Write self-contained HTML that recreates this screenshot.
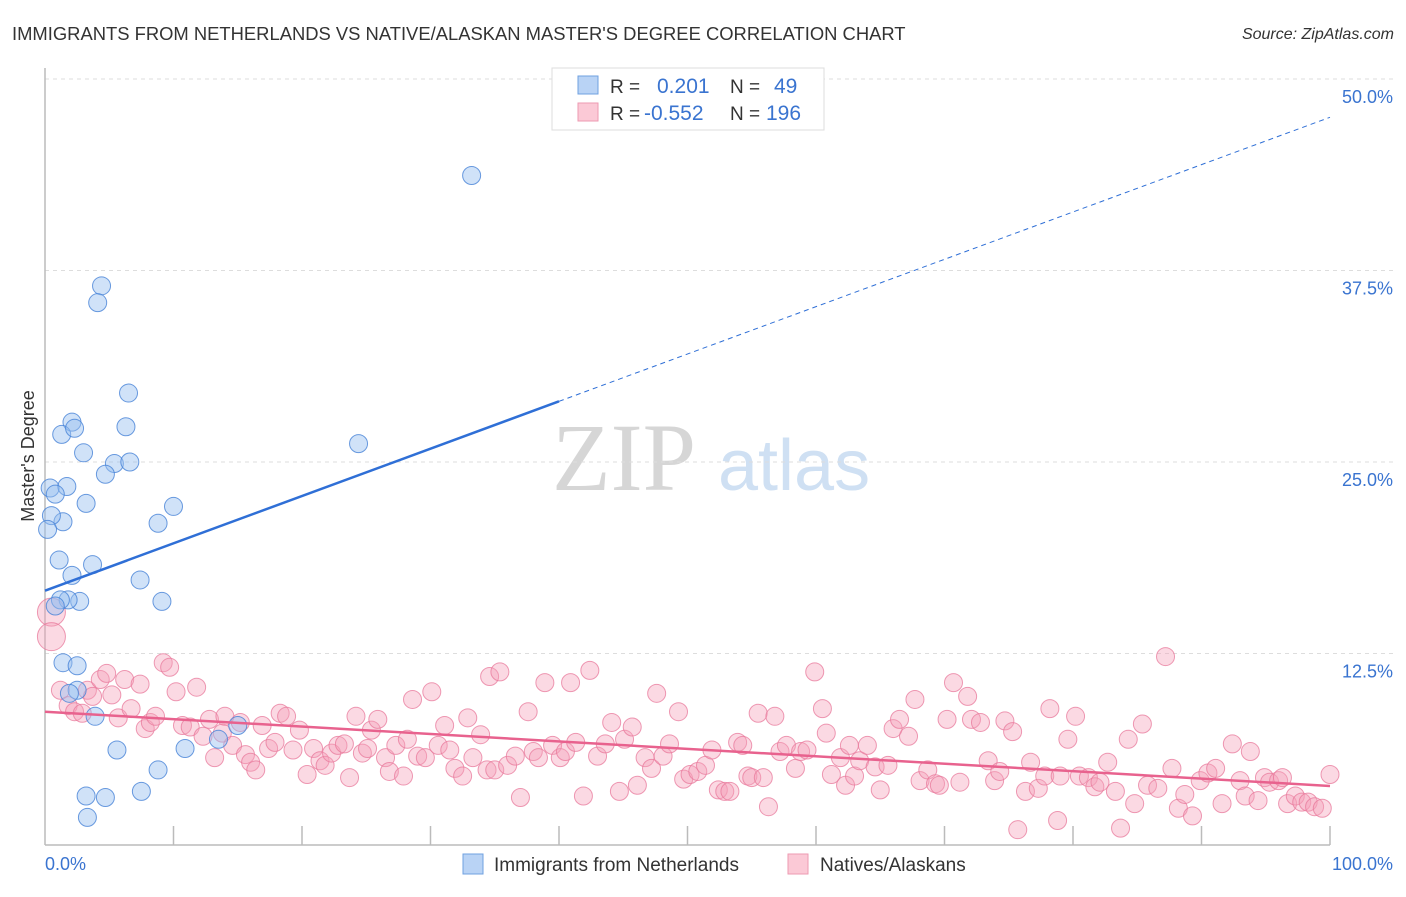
<!DOCTYPE html>
<html><head><meta charset="utf-8"><style>
html,body{margin:0;padding:0;background:#fff;}
body{width:1406px;height:892px;overflow:hidden;font-family:"Liberation Sans",sans-serif;}
</style></head><body>
<svg id="chart" width="1406" height="892" xmlns="http://www.w3.org/2000/svg" font-family="Liberation Sans, sans-serif">
<text x="12" y="40" font-size="18.4" fill="#333">IMMIGRANTS FROM NETHERLANDS VS NATIVE/ALASKAN MASTER'S DEGREE CORRELATION CHART</text>
<text x="1394" y="39" font-size="16" font-style="italic" fill="#333" text-anchor="end">Source: ZipAtlas.com</text>
<g>
<text x="552" y="490" font-family="Liberation Serif, serif" font-size="96" fill="#d6d6d6">ZIP</text>
<text x="718" y="490" font-size="72" fill="#cfe0f3">atlas</text>
</g>
<g id="grid"></g>
<g id="axes"></g>
<g id="pts"></g>
<g id="lines"></g>
<g>
<rect x="552" y="68" width="272" height="62" fill="#fff" stroke="#ddd"/>
<rect x="578" y="76" width="20" height="18" fill="#b9d3f5" stroke="#6fa0e0"/>
<rect x="578" y="103" width="20" height="18" fill="#fbc9d6" stroke="#ee9ab2"/>
<text x="610" y="93" font-size="19" fill="#333">R = </text>
<text x="657" y="93" font-size="21" fill="#3a74d0">0.201</text>
<text x="730" y="93" font-size="19" fill="#333">N = </text>
<text x="774" y="93" font-size="21" fill="#3a74d0">49</text>
<text x="610" y="120" font-size="19" fill="#333">R = </text>
<text x="644" y="120" font-size="21" fill="#3a74d0">-0.552</text>
<text x="730" y="120" font-size="19" fill="#333">N = </text>
<text x="766" y="120" font-size="21" fill="#3a74d0">196</text>
</g>
<g>
<rect x="463" y="854" width="20" height="20" fill="#b9d3f5" stroke="#6fa0e0"/>
<text x="494" y="871" font-size="19" fill="#333">Immigrants from Netherlands</text>
<rect x="788" y="854" width="20" height="20" fill="#fbc9d6" stroke="#ee9ab2"/>
<text x="820" y="871" font-size="19" fill="#333">Natives/Alaskans</text>
</g>
<text transform="translate(34,456) rotate(-90)" font-size="18" fill="#333" text-anchor="middle">Master's Degree</text>
<text x="45" y="870" font-size="18" fill="#3a74d0">0.0%</text>
<text x="1393" y="870" font-size="18" fill="#3a74d0" text-anchor="end">100.0%</text>
</svg>
<script>
const yTicks=[12.5,25,37.5,50];
const yTickLabels=["12.5%","25.0%","37.5%","50.0%"];
const xTicks=[10,20,30,40,50,60,70,80,90,100];
const blueX=[33.2,4.4,4.1,6.5,2.1,1.3,2.3,6.3,24.4,3.0,5.4,6.6,4.7,0.4,1.7,0.8,3.2,10.0,8.8,1.4,0.5,0.2,1.1,3.7,2.1,7.4,9.1,2.7,1.8,1.2,0.8,1.4,2.5,2.5,1.9,3.9,15.0,13.5,5.6,10.9,8.8,3.2,4.7,7.5,3.3];
const blueY=[43.7,36.5,35.4,29.5,27.6,26.8,27.2,27.3,26.2,25.6,24.9,25.0,24.2,23.3,23.4,22.9,22.3,22.1,21.0,21.1,21.5,20.6,18.6,18.3,17.6,17.3,15.9,15.9,16.0,16.0,15.6,11.9,11.7,10.1,9.9,8.4,7.8,6.9,6.2,6.3,4.9,3.2,3.1,3.5,1.8];
const pinkX=[0.5,0.5,1.2,1.8,2.3,2.9,3.3,3.7,4.3,4.8,5.2,5.7,6.2,6.7,7.4,7.8,8.2,8.6,9.2,9.7,10.2,10.7,11.3,11.8,12.3,12.8,13.2,13.8,14.0,14.6,15.2,15.6,16.0,16.4,16.9,17.4,17.9,18.3,18.8,19.3,19.8,20.4,20.9,21.4,21.8,22.3,22.8,23.3,23.7,24.2,24.7,25.1,25.4,25.9,26.5,26.8,27.3,27.9,28.2,28.6,29.0,29.6,30.1,30.6,31.1,31.5,31.9,32.5,32.9,33.3,33.9,34.4,34.6,35.0,35.4,36.0,36.6,37.0,37.6,38.0,38.4,38.9,39.5,40.1,40.5,40.9,41.3,41.9,42.4,43.0,43.6,44.1,44.7,45.1,45.7,46.1,46.7,47.2,47.6,48.1,48.6,49.3,49.7,50.2,50.8,51.4,51.9,52.4,52.9,53.3,53.9,54.3,54.7,55.0,55.5,55.9,56.3,56.8,57.2,57.7,58.4,58.8,59.3,59.9,60.5,60.8,61.2,61.9,62.3,62.6,63.0,63.4,64.0,64.6,65.0,65.6,66.0,66.5,67.2,67.7,68.1,68.7,69.3,69.6,70.2,70.7,71.2,71.8,72.1,72.8,73.4,73.9,74.3,74.7,75.3,75.7,76.3,76.7,77.3,77.8,78.2,78.8,79.0,79.6,80.2,80.5,81.2,81.7,82.1,82.7,83.3,83.7,84.3,84.8,85.4,85.8,86.6,87.2,87.7,88.2,88.7,89.3,89.9,90.5,91.1,91.6,92.4,93.0,93.4,93.8,94.4,94.9,95.3,96.0,96.3,96.7,97.3,97.8,98.3,98.8,99.4,100];
const pinkY=[15.2,13.6,10.1,9.1,8.7,8.6,10.1,9.7,10.8,11.2,9.8,8.3,10.8,8.9,10.5,7.6,8.0,8.4,11.9,11.6,10.0,7.8,7.7,10.3,7.1,8.2,5.7,7.3,8.4,6.5,8.0,5.9,5.4,4.9,7.8,6.3,6.7,8.6,8.4,6.2,7.5,4.6,6.3,5.5,5.2,6.0,6.5,6.6,4.4,8.4,6.0,6.3,7.5,8.2,5.7,4.8,6.5,4.5,6.9,9.5,5.8,5.7,10.0,6.5,7.8,6.2,5.0,4.5,8.3,5.7,7.2,4.9,11.0,4.9,11.3,5.2,5.8,3.1,8.7,6.1,5.7,10.6,6.5,5.7,6.1,10.6,6.7,3.2,11.4,5.8,6.6,8.0,3.5,6.9,7.7,3.9,5.7,5.0,9.9,5.8,6.6,8.7,4.3,4.6,4.8,5.2,6.2,3.6,3.5,3.5,6.7,6.5,4.5,4.4,8.6,4.4,2.5,8.4,6.1,6.5,5.0,6.1,6.2,11.3,8.9,7.3,4.6,5.7,3.9,6.5,4.5,5.5,6.5,5.1,3.6,5.2,7.6,8.2,7.1,9.5,4.2,4.9,4.0,3.9,8.2,10.6,4.1,9.7,8.2,8.0,5.5,4.2,4.8,8.1,7.4,1.0,3.5,5.4,3.7,4.5,8.9,1.6,4.5,6.9,8.4,4.5,4.4,3.8,4.1,5.4,3.5,1.1,6.9,2.7,7.9,3.9,3.7,12.3,5.0,2.4,3.3,1.9,4.2,4.7,5.0,2.7,6.6,4.2,3.2,6.1,2.9,4.4,4.1,4.2,4.4,2.7,3.2,2.8,2.8,2.5,2.4,4.6];
const pinkBig=[15.2,13.6];
const blueTrend=[16.6,47.5];
const pinkTrend=[8.7,3.85];
const NS="http://www.w3.org/2000/svg";
const X0=45,X1=1330,Y0=845,Y50=79;
const sx=v=>X0+(X1-X0)*v/100;
const sy=v=>Y0-(Y0-Y50)*v/50;
function mk(parent,tag,attrs){const e=document.createElementNS(NS,tag);for(const k in attrs)e.setAttribute(k,attrs[k]);document.getElementById(parent).appendChild(e);return e;}
yTicks.forEach((t,i)=>{
 const g=mk('grid','line',{x1:45,x2:1395,y1:sy(t),y2:sy(t),stroke:'#ddd','stroke-dasharray':'4,4'});
 
 
 const l=mk('grid','text',{x:1393,y:sy(t)+24,'font-size':18,fill:'#3a74d0','text-anchor':'end'});
 l.textContent=yTickLabels[i];
 
 
});
const ya=mk('axes','line',{x1:X0,x2:X0,y1:68,y2:Y0,stroke:'#bbb','stroke-width':1.5});


const xa=mk('axes','line',{x1:X0,x2:X1,y1:Y0,y2:Y0,stroke:'#bbb','stroke-width':1.5});


xTicks.forEach(t=>{
 const k=mk('axes','line',{x1:sx(t),x2:sx(t),y1:826,y2:Y0,stroke:'#bbb','stroke-width':1.5});
 
 
});
pinkX.forEach((x,i)=>{
 const big=(i<2&&pinkBig.includes(pinkY[i]));
 const c=mk('pts','circle',{cx:sx(x),cy:sy(pinkY[i]),r:big?14:9,fill:'rgba(246,160,185,0.4)',stroke:'rgba(232,120,155,0.75)','stroke-width':1});
 
 
});
blueX.forEach((x,i)=>{
 const c=mk('pts','circle',{cx:sx(x),cy:sy(blueY[i]),r:9,fill:'rgba(150,190,240,0.45)',stroke:'rgba(70,130,215,0.8)','stroke-width':1});
 
 
});
const bAt=x=>blueTrend[0]+(blueTrend[1]-blueTrend[0])*x/100;
const b1=mk('lines','line',{x1:sx(0),y1:sy(bAt(0)),x2:sx(40),y2:sy(bAt(40)),stroke:'#2f6fd6','stroke-width':2.5});


const b2=mk('lines','line',{x1:sx(40),y1:sy(bAt(40)),x2:sx(100),y2:sy(bAt(100)),stroke:'#2f6fd6','stroke-width':1,'stroke-dasharray':'5,4'});


const p1=mk('lines','line',{x1:sx(0),y1:sy(pinkTrend[0]),x2:sx(100),y2:sy(pinkTrend[1]),stroke:'#e8628e','stroke-width':2.5});


</script>
</body></html>
